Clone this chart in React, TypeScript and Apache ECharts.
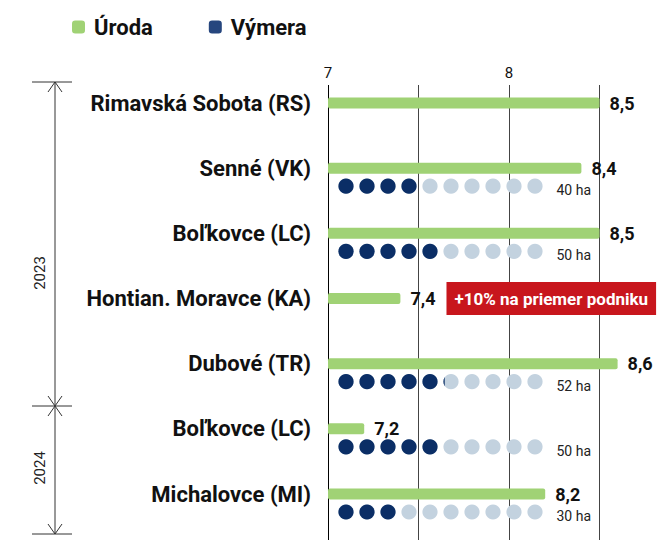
import React, { useEffect, useRef } from 'react';
import * as echarts from 'echarts';

const farms = [
  'Rimavská Sobota (RS)',
  'Senné (VK)',
  'Boľkovce (LC)',
  'Hontian. Moravce (KA)',
  'Dubové (TR)',
  'Boľkovce (LC)',
  'Michalovce (MI)',
];
const yields = [8.5, 8.4, 8.5, 7.4, 8.6, 7.2, 8.2];
const areasHa = [null, 40, 50, null, 52, 50, 30];
const years = ['2023', '2024'];
const legendNames = ['Úroda', 'Výmera'];
const noteText = '+10% na priemer podniku';
const noteRow = 3;

const FONT = 'Roboto, "Noto Sans", sans-serif';
const GREEN = '#a0d275';
const NAVY = '#0b2e66';
const LIGHT = '#c3d2df';

const fmt = (v: number) => v.toFixed(1).replace('.', ',');

export default function App() {
  const ref = useRef<HTMLDivElement>(null);
  useEffect(() => {
    document.body.style.margin = '0';
    const chart = echarts.init(ref.current!, null, { renderer: 'svg' });

    const line = (x1: number, y1: number, x2: number, y2: number) => ({
      type: 'line',
      shape: { x1, y1, x2, y2 },
      style: { stroke: '#333', lineWidth: 1 },
      silent: true,
    });
    const BX = 55;
    const graphic: any[] = [
      line(32, 82, 72, 82),
      line(BX, 82, BX, 534),
      line(32, 406, 72, 406),
      line(32, 534, 72, 534),
      line(BX, 82, 48, 92),
      line(BX, 82, 62, 92),
      line(BX, 406, 48, 396),
      line(BX, 406, 62, 396),
      line(BX, 406, 48, 416),
      line(BX, 406, 62, 416),
      line(BX, 534, 48, 524),
      line(BX, 534, 62, 524),
      {
        type: 'text', x: 40, y: 273, rotation: Math.PI / 2,
        style: { text: years[0], fontSize: 15, fill: '#222', align: 'center', verticalAlign: 'middle', fontFamily: FONT },
      },
      {
        type: 'text', x: 40, y: 468, rotation: Math.PI / 2,
        style: { text: years[1], fontSize: 15, fill: '#222', align: 'center', verticalAlign: 'middle', fontFamily: FONT },
      },
    ];

    const barData = yields.map((v, i) =>
      i === noteRow
        ? {
            value: v,
            label: {
              formatter: `{v|${fmt(v)}}{g|}{b|${noteText}}`,
              rich: {
                v: { fontSize: 18, fontWeight: 'bold', color: '#111', fontFamily: FONT },
                g: { width: 11 },
                b: {
                  fontSize: 17, fontWeight: 'bold', color: '#fff', fontFamily: FONT,
                  backgroundColor: '#c8161d', padding: [8, 8, 8, 8],
                },
              },
            },
          }
        : v
    );

    const option: any = {
      animation: false,
      textStyle: { fontFamily: FONT },
      graphic,
      legend: {
        left: 67,
        top: 11,
        itemGap: 56,
        itemWidth: 13,
        itemHeight: 13,
        data: [
          { name: legendNames[0], icon: 'roundRect', itemStyle: { color: GREEN } },
          { name: legendNames[1], icon: 'roundRect', itemStyle: { color: '#26467e' } },
        ],
        textStyle: { fontSize: 22, fontWeight: 'bold', color: '#111', fontFamily: FONT, padding: [0, 0, 0, 4] },
      },
      grid: [
        { left: 328, width: 271.5, top: 85, height: 455 },
        { left: 328, width: 307.7, top: 103, height: 391 },
        { left: 335.5, width: 210, top: 121, height: 391 },
      ],
      xAxis: [
        {
          gridIndex: 0, type: 'value', min: 7, max: 8.5, interval: 0.5, position: 'top',
          axisLine: { show: false }, axisTick: { show: false },
          axisLabel: {
            margin: 5, fontSize: 15, color: '#111', fontFamily: FONT,
            formatter: (v: number) => (Number.isInteger(v) ? String(v) : ''),
          },
          splitLine: { show: true, lineStyle: { color: ['#000', '#444', '#444', '#444'], width: 1 } },
        },
        { gridIndex: 1, type: 'value', min: 7, max: 8.7, show: false },
        { gridIndex: 2, type: 'value', min: 0, max: 100, show: false },
      ],
      yAxis: [
        { gridIndex: 0, type: 'value', show: false },
        {
          gridIndex: 1, type: 'category', data: farms, inverse: true, boundaryGap: false,
          axisLine: { show: false }, axisTick: { show: false }, splitLine: { show: false },
          axisLabel: {
            margin: 17, fontSize: 22, fontWeight: 'bold', color: '#111', fontFamily: FONT,
            padding: [6, 0, 0, 0],
          },
        },
        { gridIndex: 2, type: 'category', data: farms, inverse: true, boundaryGap: false, show: false },
      ],
      series: [
        {
          name: legendNames[0], type: 'bar', xAxisIndex: 1, yAxisIndex: 1,
          data: barData, barWidth: 11, clip: true,
          itemStyle: { color: GREEN, borderRadius: 2 },
          label: {
            show: true, position: 'right', distance: 10,
            fontSize: 18, fontWeight: 'bold', color: '#111', fontFamily: FONT,
            formatter: (p: any) => fmt(p.value),
          },
        },
        {
          name: 'bg', type: 'pictorialBar', xAxisIndex: 2, yAxisIndex: 2,
          data: areasHa.map((a) => (a == null ? '-' : { value: 100, ha: a })),
          symbol: 'circle', symbolSize: 15, symbolRepeat: 10, symbolMargin: '0!',
          symbolBoundingData: 100,
          itemStyle: { color: LIGHT }, z: 2,
          label: {
            show: true, position: 'right', distance: 11, offset: [0, 4],
            fontSize: 14, color: '#222', fontFamily: FONT,
            formatter: (p: any) => `${areasHa[p.dataIndex]} ha`,
          },
        },
        {
          name: legendNames[1], type: 'pictorialBar', xAxisIndex: 2, yAxisIndex: 2,
          data: areasHa.map((a) => (a == null ? '-' : a)),
          symbol: 'circle', symbolSize: 15, symbolRepeat: 10, symbolMargin: '0!',
          symbolBoundingData: 100, symbolClip: true,
          itemStyle: { color: NAVY }, z: 3,
        },
      ],
    };
    chart.setOption(option);
    return () => chart.dispose();
  }, []);
  return <div ref={ref} style={{ width: 665, height: 540 }} />;
}
